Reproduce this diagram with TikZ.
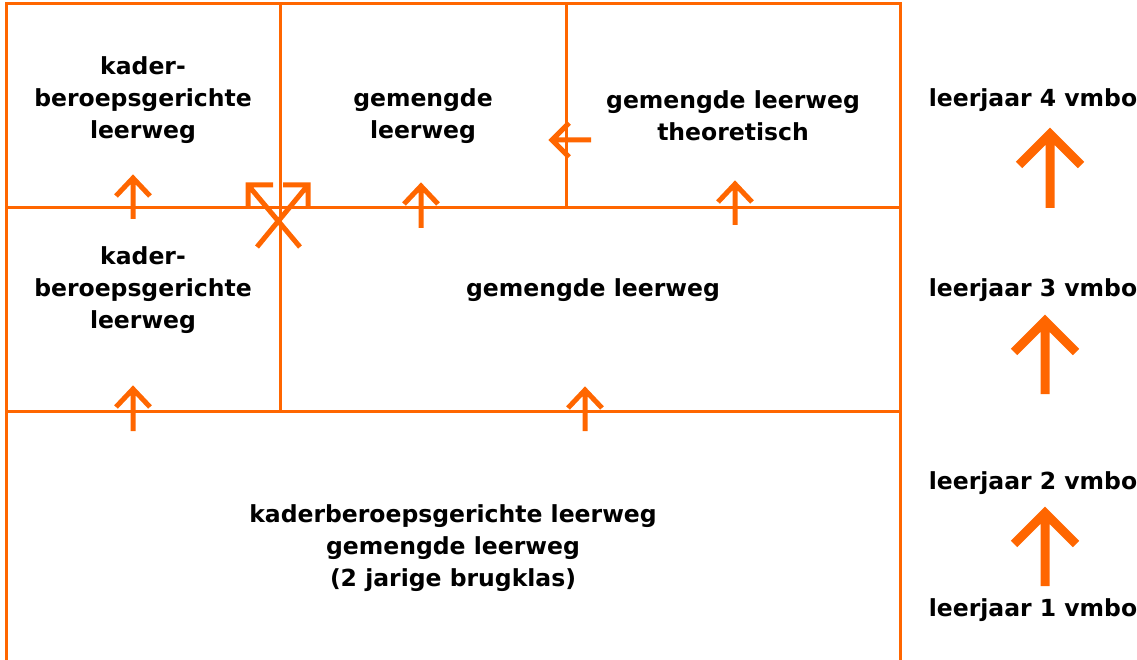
\documentclass[tikz,border=0pt]{standalone}
\usepackage{fontspec}
\setmainfont{DejaVu Sans}
\definecolor{vmbooranje}{HTML}{FF6600}

\begin{document}
\begin{tikzpicture}[x=1pt,y=-1pt,line join=miter,
  lijn/.style={color=vmbooranje, line width=3pt},
  pijl/.style={color=vmbooranje, line width=5pt},
  grotepijl/.style={color=vmbooranje, line width=9pt},
  tekst/.style={font=\bfseries\fontsize{23.5}{32}\selectfont, align=center, inner sep=0pt}]
\useasboundingbox (0,0) rectangle (1137,660);
% kader en vakken
\draw[lijn] (6,662)--(6,4)--(900,4)--(900,662);
\draw[lijn] (6,208)--(900,208);
\draw[lijn] (6,411)--(900,411);
\draw[lijn] (280,4)--(280,411);
\draw[lijn] (566,4)--(566,208);
% teksten
\node[tekst] (kader4) at (143,100) {kader-\\beroepsgerichte\\leerweg};
\node[tekst] (gem4) at (423,116) {gemengde\\leerweg};
\node[tekst] (theor4) at (733,116) {gemengde leerweg\\theoretisch};
\node[tekst] (kader3) at (143,290) {kader-\\beroepsgerichte\\leerweg};
\node[tekst] (gem3) at (593,290) {gemengde leerweg};
\node[tekst] (brug) at (453,548) {kaderberoepsgerichte leerweg\\gemengde leerweg\\(2 jarige brugklas)};
\node[tekst] (jaar4) at (1033,100) {leerjaar 4 vmbo};
\node[tekst] (jaar3) at (1033,290) {leerjaar 3 vmbo};
\node[tekst] (jaar2) at (1033,483) {leerjaar 2 vmbo};
\node[tekst] (jaar1) at (1033,610) {leerjaar 1 vmbo};
% pijlen (schacht + open punt)
\coordinate (a1) at (133,219); \coordinate (a2) at (133,178);
\coordinate (b1) at (421,228); \coordinate (b2) at (421,186);
\coordinate (c1) at (735,225); \coordinate (c2) at (735,184);
\coordinate (d1) at (133,431); \coordinate (d2) at (133,389);
\coordinate (e1) at (585,431); \coordinate (e2) at (585,390);
\coordinate (f1) at (591,140); \coordinate (f2) at (552,140);
\coordinate (g1) at (300,247); \coordinate (g2) at (248,185);
\coordinate (h1) at (257,247); \coordinate (h2) at (308,185);
\foreach \van/\naar/\wa/\wb in {a1/a2/{-17,18}/{17,18}, b1/b2/{-17,18}/{17,18},
    c1/c2/{-17,18}/{17,18}, d1/d2/{-17,18}/{17,18}, e1/e2/{-17,18}/{17,18},
    f1/f2/{17,-17}/{17,17}, g1/g2/{25,0}/{0,24}, h1/h2/{-25,0}/{0,24}}
  \draw[pijl] (\van)--(\naar) (\naar) ++(\wa) -- (\naar) -- ++(\wb);
\coordinate (p1) at (1050,208); \coordinate (p2) at (1050,134);
\coordinate (q1) at (1045,394); \coordinate (q2) at (1045,321);
\coordinate (r1) at (1045,586); \coordinate (r2) at (1045,513);
\foreach \van/\naar in {p1/p2,q1/q2,r1/r2}
  \draw[grotepijl] (\van)--(\naar) (\naar) ++(-31,31) -- (\naar) -- ++(31,31);
\end{tikzpicture}
\end{document}
